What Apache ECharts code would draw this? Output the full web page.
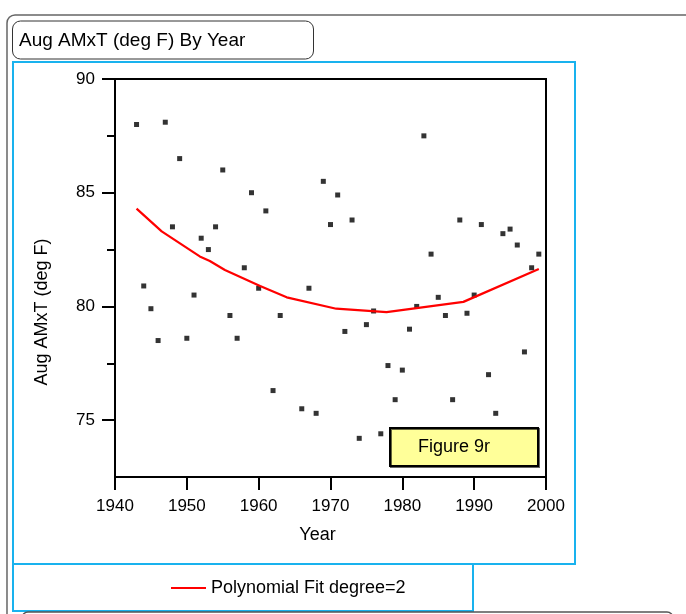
<!DOCTYPE html>
<html>
<head>
<meta charset="utf-8">
<script src="https://cdn.jsdelivr.net/npm/echarts@6/dist/echarts.min.js"></script>
<style>
  html, body { margin: 0; padding: 0; background: #fff; }
  #chart { width: 686px; height: 614px; }
</style>
</head>
<body>
<div id="chart"></div>
<script>
// August average maximum temperature by year
const years = [1943, 1944, 1945, 1946, 1947, 1948, 1949, 1950, 1951, 1952,
  1953, 1954, 1955, 1956, 1957, 1958, 1959, 1960, 1961, 1962, 1963,
  1966, 1967, 1968, 1969, 1970, 1971, 1972, 1973, 1974, 1975, 1976,
  1977, 1978, 1979, 1980, 1981, 1982, 1983, 1984, 1985, 1986, 1987,
  1988, 1989, 1990, 1991, 1992, 1993, 1994, 1995, 1996, 1997, 1998, 1999];
const amxt = [88.0, 80.9, 79.9, 78.5, 88.1, 83.5, 86.5, 78.6, 80.5, 83.0,
  82.5, 83.5, 86.0, 79.6, 78.6, 81.7, 85.0, 80.8, 84.2, 76.3, 79.6,
  75.5, 80.8, 75.3, 85.5, 83.6, 84.9, 78.9, 83.8, 74.2, 79.2, 79.8,
  74.4, 77.4, 75.9, 77.2, 79.0, 80.0, 87.5, 82.3, 80.4, 79.6, 75.9,
  83.8, 79.7, 80.5, 83.6, 77.0, 75.3, 83.2, 83.4, 82.7, 78.0, 81.7, 82.3];

// Second-degree polynomial fit, sampled along the years
const fitYears = [1943, 1946.5, 1951.8, 1953.2, 1955.3, 1960.2, 1963.9, 1970.8, 1977.8, 1988.5, 1999];
const fitValues = [84.3, 83.3, 82.2, 82.0, 81.6, 80.9, 80.4, 79.9, 79.75, 80.2, 81.65];

const yMajorTicks = [75, 80, 85, 90];
const yMinorTicks = [77.5, 82.5, 87.5];

const FONT = '"Liberation Sans", Arial, sans-serif';
const BLUE = '#19b2ee';

const chart = echarts.init(document.getElementById('chart'), null, { renderer: 'canvas' });

const points = years.map((y, i) => [y, amxt[i]]);
const fit = fitYears.map((y, i) => [y, fitValues[i]]);

chart.setOption({
  animation: false,
  backgroundColor: '#fff',
  textStyle: { fontFamily: FONT },
  grid: {
    left: 115, top: 79, width: 431, height: 398,
    show: true, borderColor: '#000', borderWidth: 2, backgroundColor: 'transparent'
  },
  xAxis: {
    type: 'value', min: 1940, max: 2000, interval: 10,
    name: 'Year', nameLocation: 'middle', nameGap: 49,
    nameTextStyle: { fontSize: 18, color: '#000', fontFamily: FONT, padding: [0, 26, 0, 0] },
    axisLine: { show: true, lineStyle: { color: '#000', width: 2 } },
    axisTick: { show: true, inside: false, length: 13, lineStyle: { color: '#000', width: 2 } },
    axisLabel: { color: '#000', fontSize: 17, margin: 21, fontFamily: FONT, formatter: v => String(v) },
    splitLine: { show: false }
  },
  yAxis: [
    {
      type: 'value', min: 72.5, max: 90,
      name: 'Aug AMxT (deg F)', nameLocation: 'middle', nameGap: 64, nameRotate: 90,
      nameTextStyle: { fontSize: 18, color: '#000', fontFamily: FONT, padding: [0, 68, 0, 0] },
      axisLine: { show: true, lineStyle: { color: '#000', width: 2 } },
      axisTick: { show: true, length: 13, customValues: yMajorTicks, lineStyle: { color: '#000', width: 2 } },
      axisLabel: { color: '#000', fontSize: 17, margin: 20, customValues: yMajorTicks, fontFamily: FONT },
      splitLine: { show: false }
    },
    {
      type: 'value', min: 72.5, max: 90, position: 'left',
      axisLine: { show: false },
      axisTick: { show: true, length: 8, customValues: yMinorTicks, lineStyle: { color: '#000', width: 2 } },
      axisLabel: { show: false },
      splitLine: { show: false }
    }
  ],
  legend: {
    data: [{ name: 'Polynomial Fit degree=2', icon: 'rect' }],
    left: 166, top: 574,
    itemWidth: 35, itemHeight: 2, itemGap: 8,
    textStyle: { fontSize: 18, color: '#000', fontFamily: FONT }
  },
  series: [
    {
      name: 'Aug AMxT',
      type: 'scatter',
      data: points,
      symbol: 'rect', symbolSize: 5,
      itemStyle: { color: '#000' },
      z: 3
    },
    {
      name: 'Polynomial Fit degree=2',
      type: 'line',
      data: fit,
      showSymbol: false, symbol: 'none',
      lineStyle: { color: '#ff0000', width: 2.2 },
      itemStyle: { color: '#ff0000' },
      z: 4
    }
  ],
  graphic: [
    // outer frame
    { type: 'rect', shape: { x: 7, y: 15, width: 720, height: 660, r: 8 },
      style: { fill: 'none', stroke: '#666', lineWidth: 1.5 }, silent: true },
    // title box
    { type: 'rect', shape: { x: 12.5, y: 21, width: 301, height: 38, r: 8 },
      style: { fill: '#fff', stroke: '#333', lineWidth: 1 }, silent: true },
    { type: 'text', x: 19, y: 41,
      style: { text: 'Aug AMxT (deg F) By Year', fill: '#000', font: '19px ' + FONT, verticalAlign: 'middle' } },
    // plot frame
    { type: 'rect', shape: { x: 13, y: 62, width: 562, height: 502 },
      style: { fill: 'none', stroke: BLUE, lineWidth: 2 }, silent: true },
    // legend frame
    { type: 'rect', shape: { x: 13, y: 564, width: 460, height: 47 },
      style: { fill: 'none', stroke: BLUE, lineWidth: 2 }, silent: true },
    // next panel edge
    { type: 'rect', shape: { x: 22, y: 612, width: 651, height: 40, r: 6 },
      style: { fill: 'none', stroke: '#555', lineWidth: 1.5 }, silent: true },
    // figure label
    { type: 'rect', shape: { x: 390, y: 428, width: 148, height: 38 },
      style: { fill: '#ffff99', stroke: '#000', lineWidth: 2,
        shadowColor: 'rgba(0,0,0,0.6)', shadowOffsetX: 1, shadowOffsetY: 1, shadowBlur: 0 },
      z: 10, silent: true },
    { type: 'text', x: 454, y: 447, z: 11,
      style: { text: 'Figure 9r', fill: '#000', font: '18px ' + FONT, align: 'center', verticalAlign: 'middle' } }
  ]
});
</script>
</body>
</html>
